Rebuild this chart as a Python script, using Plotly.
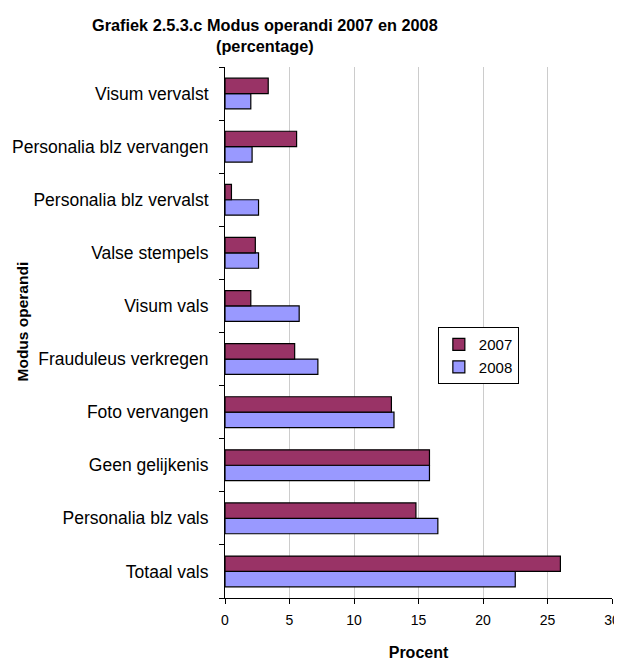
import plotly.graph_objects as go

categories = ['Totaal vals', 'Personalia blz vals', 'Geen gelijkenis', 'Foto vervangen',
              'Frauduleus verkregen', 'Visum vals', 'Valse stempels',
              'Personalia blz vervalst', 'Personalia blz vervangen', 'Visum vervalst']
values_2007 = [26.0, 14.8, 15.85, 12.9, 5.4, 2.0, 2.35, 0.5, 5.55, 3.35]
values_2008 = [22.5, 16.5, 15.85, 13.1, 7.2, 5.75, 2.6, 2.6, 2.1, 2.0]
x_ticks = [0, 5, 10, 15, 20, 25, 30]

font_name = 'Liberation Sans, Arial, sans-serif'

# the page body has an 8px margin, so the figure starts 8px in from the window
W, H = 622, 653
plot_left, plot_width, plot_height = 217, 387, 531

fig = go.Figure()
# 2008 first so that 2007 sits on top within each group
fig.add_trace(go.Bar(y=categories, x=values_2008, name='2008', orientation='h',
                     marker=dict(color='#9999FF', line=dict(color='black', width=1.2))))
fig.add_trace(go.Bar(y=categories, x=values_2007, name='2007', orientation='h',
                     marker=dict(color='#993366', line=dict(color='black', width=1.2))))

fig.update_layout(
    width=W, height=H,
    template='plotly_white',
    plot_bgcolor='white', paper_bgcolor='white',
    font=dict(family=font_name, size=16, color='black'),
    barmode='group', bargap=0.42, bargroupgap=0,
    margin=dict(l=plot_left, r=W - plot_left - plot_width, t=59, b=H - 59 - plot_height,
                autoexpand=False),
    legend=dict(x=0.55, y=0.51, xanchor='left', yanchor='top', traceorder='reversed',
                bordercolor='black', borderwidth=1, bgcolor='white',
                font=dict(size=15), itemwidth=30, tracegroupgap=4),
    showlegend=True,
)

fig.update_xaxes(range=[0, 30], tickvals=x_ticks, showgrid=True, gridcolor='#cccccc',
                 zeroline=False, showline=True, linecolor='black', ticks='outside',
                 ticklen=5, tickcolor='black', tickfont=dict(size=14),
                 ticklabelstandoff=4, ticklabeloverflow='allow',
                 title=dict(text='<b>Procent</b>', font=dict(size=16), standoff=25))
fig.update_yaxes(showgrid=False, showline=True, linecolor='black', ticks='outside',
                 tickson='boundaries', ticklen=5, tickcolor='black', zeroline=False,
                 tickfont=dict(size=17.5), ticklabelstandoff=12)

# chart title, centred over the whole chart like the original
fig.add_annotation(text='<b>Grafiek 2.5.3.c Modus operandi 2007 en 2008<br>(percentage)</b>',
                   x=(265 - 225) / plot_width, xref='paper', xanchor='center',
                   y=1 + 10 / plot_height, yref='paper', yanchor='bottom',
                   showarrow=False, font=dict(size=16.3))

fig.add_annotation(text='<b>Modus operandi</b>', textangle=-90,
                   x=(22 - 225) / plot_width, xref='paper', xanchor='center',
                   y=0.5 + 11 / plot_height, yref='paper', showarrow=False,
                   font=dict(size=15.5))

fig.write_html('out.html')
